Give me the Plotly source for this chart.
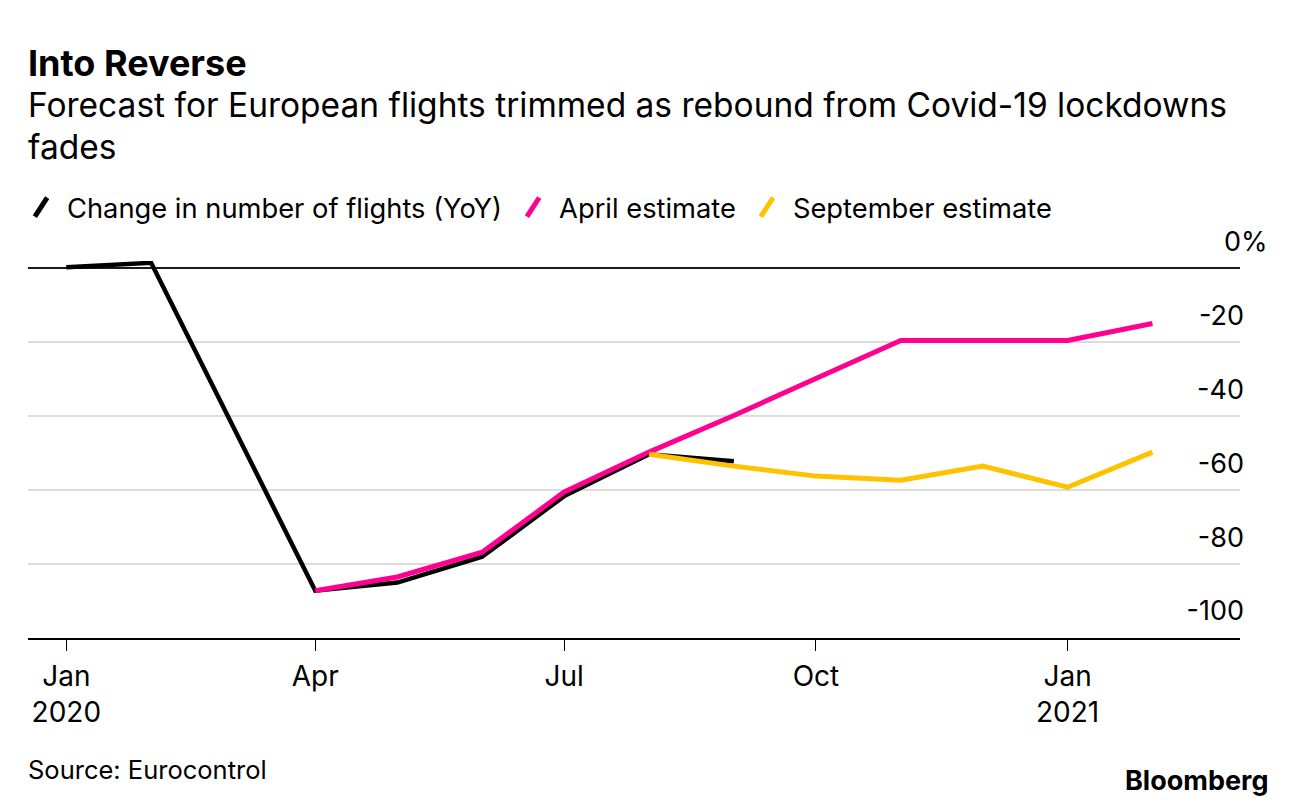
import plotly.graph_objects as go

# ---- data ----
actual_dates = ["2020-01-01", "2020-02-01", "2020-04-01", "2020-05-01", "2020-06-01",
                "2020-07-01", "2020-08-01", "2020-09-01"]
actual_vals = [0.3, 1.5, -87.2, -85.0, -78.0, -61.6, -50.3, -52.2]

april_dates = ["2020-04-01", "2020-05-01", "2020-06-01", "2020-07-01", "2020-08-01",
               "2020-09-01", "2020-10-01", "2020-11-01", "2020-12-01", "2021-01-01",
               "2021-02-01"]
april_vals = [-87.2, -83.5, -76.8, -60.5, -49.7, -39.8, -29.8, -19.5, -19.5, -19.5, -14.9]

sept_dates = ["2020-08-01", "2020-09-01", "2020-10-01", "2020-11-01", "2020-12-01",
              "2021-01-01", "2021-02-01"]
sept_vals = [-50.3, -53.5, -56.2, -57.3, -53.5, -59.2, -49.7]

x_tick_vals = ["2020-01-01", "2020-04-01", "2020-07-01", "2020-10-01", "2021-01-01"]
x_tick_text = ["Jan<br>2020", "Apr", "Jul", "Oct", "Jan<br>2021"]
y_tick_vals = [-100, -80, -60, -40, -20, 0]
y_tick_text = ["-100", "-80", "-60", "-40", "-20", ""]
zero_label = "0%"

names = ["Change in number of flights (YoY)", "April estimate", "September estimate"]
colors = ["#000000", "#ff0090", "#ffc200"]

FONT = "Inter, Liberation Sans, Arial, sans-serif"

fig = go.Figure()
series = [(actual_dates, actual_vals, 4.5), (april_dates, april_vals, 5), (sept_dates, sept_vals, 5)]
for (xs, ys, w), c, n in zip(series, colors, names):
    fig.add_trace(go.Scatter(x=xs, y=ys, mode="lines", line=dict(color=c, width=w),
                             name=n, showlegend=False, hoverinfo="x+y"))
# legend entries with slanted stroke symbols
for c, n in zip(colors, names):
    fig.add_trace(go.Scatter(x=[None], y=[None], mode="markers", name=n,
                             marker=dict(symbol="line-ne", size=18, angle=-12,
                                         line=dict(color=c, width=5))))

# page body has an 8px margin: figure coords = window coords - 8
OFF = 8
W, H = 1288, 800
PLOT_L, PLOT_R = 28 - OFF, 1240 - OFF
PLOT_T, PLOT_B = 260.6 - OFF, 638 - OFF
PW = PLOT_R - PLOT_L
PH = PLOT_B - PLOT_T

def py(ywin):
    return (PLOT_B - (ywin - OFF)) / PH

def px(xwin):
    return ((xwin - OFF) - PLOT_L) / PW

fig.update_layout(
    width=W, height=H,
    margin=dict(l=PLOT_L, r=W - PLOT_R, t=PLOT_T, b=H - PLOT_B, pad=0, autoexpand=False),
    paper_bgcolor="white", plot_bgcolor="white",
    font=dict(family=FONT, size=27, color="black"),
    showlegend=True,
    legend=dict(orientation="h", x=px(15), xanchor="left", y=py(207), yanchor="middle",
                font=dict(size=27.3, color="black"), itemwidth=42, bgcolor="rgba(0,0,0,0)",
                tracegroupgap=0),
    xaxis=dict(type="date", range=["2019-12-18", "2021-03-05"],
               tickvals=x_tick_vals, ticktext=x_tick_text,
               showgrid=False, zeroline=False,
               showline=True, linecolor="black", linewidth=2,
               ticks="outside", ticklen=11, tickwidth=1, tickcolor="black",
               ticklabelstandoff=1,
               tickfont=dict(size=28, color="black"), fixedrange=True),
    yaxis=dict(range=[-100, 2.0], side="right",
               tickvals=y_tick_vals, ticktext=y_tick_text,
               ticklabelposition="inside", ticklabelshift=-27, ticklabelstandoff=-7,
               showgrid=True, gridcolor="#dcdcdc", gridwidth=2,
               zeroline=True, zerolinecolor="#1a1a1a", zerolinewidth=2,
               ticks="", showline=False, tickfont=dict(size=27, color="black"),
               fixedrange=True),
    annotations=[
        dict(text="<b>Into Reverse</b>", xref="paper", yref="paper", x=px(26), y=py(62),
             xanchor="left", yanchor="middle", showarrow=False, font=dict(size=36)),
        dict(text="Forecast for European flights trimmed as rebound from Covid-19 lockdowns",
             xref="paper", yref="paper", x=px(26), y=py(104), xanchor="left", yanchor="middle",
             showarrow=False, font=dict(size=33.5)),
        dict(text="fades", xref="paper", yref="paper", x=px(26), y=py(146), xanchor="left",
             yanchor="middle", showarrow=False, font=dict(size=33.5)),
        dict(text="Source: Eurocontrol", xref="paper", yref="paper", x=px(26), y=py(770),
             xanchor="left", yanchor="middle", showarrow=False, font=dict(size=25.5)),
        dict(text="<b>Bloomberg</b>", xref="paper", yref="paper", x=px(1270),
             y=py(781), xanchor="right", yanchor="middle", showarrow=False,
             font=dict(size=27)),
        # zero label ("0" aligned with the other numbers, "%" hanging past the edge)
        dict(text=zero_label, xref="paper", yref="y", x=1, y=0, xanchor="right",
             yanchor="middle", yshift=27, xshift=30, showarrow=False, font=dict(size=27)),
    ],
)
fig.write_html("out.html")
